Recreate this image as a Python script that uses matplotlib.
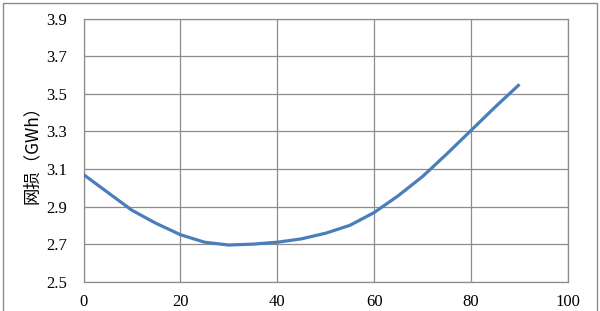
import matplotlib
matplotlib.use("Agg")
import matplotlib.pyplot as plt
from matplotlib.patches import Rectangle

x_vals = [0, 5, 10, 15, 20, 25, 30, 35, 40, 45, 50, 55, 60, 65, 70, 75, 80, 85, 90]
loss_gwh = [3.07, 2.975, 2.88, 2.81, 2.75, 2.71, 2.695, 2.70, 2.71, 2.728, 2.758, 2.80, 2.868, 2.958, 3.06, 3.18, 3.305, 3.43, 3.55]
x_ticks = [0, 20, 40, 60, 80, 100]
y_ticks = [2.5, 2.7, 2.9, 3.1, 3.3, 3.5, 3.7, 3.9]
y_label = "网损（GWh）"

fig = plt.figure(figsize=(6.0, 3.11), dpi=100)
ax = fig.add_axes([83.5/600, 1-281.7/311, (568-83.5)/600, (281.7-18.5)/311])

ax.plot(x_vals, loss_gwh, color="#4a7ebb", linewidth=2.3, solid_joinstyle="round",
        solid_capstyle="butt", zorder=3)

ax.set_xlim(0, 100)
ax.set_ylim(2.5, 3.9)
ax.set_xticks(x_ticks)
ax.set_yticks(y_ticks)
ax.set_xticklabels([str(v) for v in x_ticks], family="Liberation Serif", fontsize=12)
ax.set_yticklabels([f"{v:.1f}" for v in y_ticks], family="Liberation Serif", fontsize=12)
ax.tick_params(length=0)
ax.tick_params(axis="y", pad=12)
ax.tick_params(axis="x", pad=9)
ax.grid(True, color="#8c8c8c", linewidth=0.9)
ax.set_axisbelow(True)
for s in ax.spines.values():
    s.set_color("#8c8c8c")
    s.set_linewidth(0.9)

ax.set_ylabel(y_label, family=["Noto Sans CJK SC", "DejaVu Sans"], fontsize=12.5, labelpad=4)

fig.patches.append(Rectangle((3/600, -0.05), 594/600, 1.05 - 3/311, transform=fig.transFigure,
                             fill=False, edgecolor="#8c8c8c", linewidth=1.0))

fig.savefig("out.png", dpi=100)
